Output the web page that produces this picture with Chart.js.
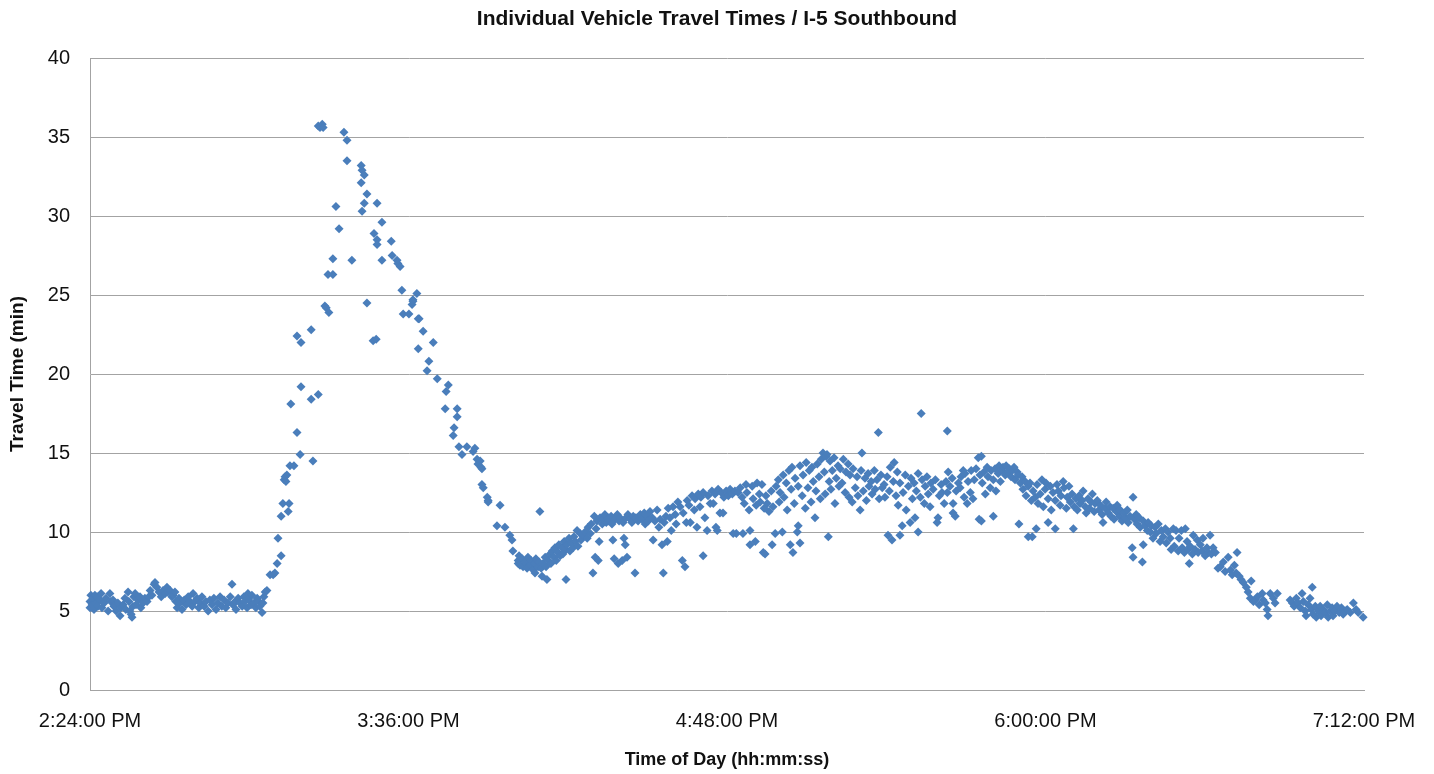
<!DOCTYPE html>
<html>
<head>
  <title>Individual Vehicle Travel Times / I-5 Southbound</title>
  <script src="https://cdn.jsdelivr.net/npm/chart.js"></script>
  <style>
    html, body { margin: 0; padding: 0; background: #fff; }
    #wrap { width: 1434px; height: 774px; position: relative; }
  </style>
</head>
<body>
<div id="wrap"><canvas id="chart"></canvas></div>
<script>
  // departure time in minutes after midnight, travel time in minutes

  // free flow before the incident, 2:24 - 3:04 PM
  const earlyStart = [
    864.0, 864.0, 864.2, 864.5, 864.7, 864.9, 865.1, 865.4, 865.6, 865.8,
    866.3, 866.5, 866.7, 867.2, 867.6, 868.1, 868.5, 868.7, 869.2, 869.4,
    869.9, 870.3, 870.8, 871.0, 871.5, 871.9, 872.1, 872.6, 872.8, 873.0,
    873.3, 873.5, 873.7, 873.9, 874.2, 874.4, 874.9, 875.3, 875.5, 876.0,
    876.4, 876.9, 877.3, 877.6, 878.0, 878.5, 878.7, 879.1, 879.6, 880.1,
    880.5, 881.0, 881.4, 881.6, 882.1, 882.5, 882.8, 883.2, 883.4, 883.7,
    884.1, 884.3, 884.8, 885.3, 885.7, 886.2, 886.6, 887.1, 887.3, 887.7,
    888.2, 888.6, 888.9, 889.3, 889.8, 890.2, 890.7, 891.1, 891.6, 892.0,
    892.5, 892.9, 893.4, 893.8, 894.3, 894.7, 895.2, 895.7, 896.1, 896.3,
    896.8, 897.0, 897.5, 897.9, 898.4, 898.8, 899.0, 899.5, 899.7, 899.9,
    900.4, 900.6, 901.1, 901.5, 901.8, 902.2, 902.4, 902.9, 903.1, 903.3,
    903.6, 904.0
  ];
  const earlyTravel = [
    5.6, 5.2, 6.0, 5.4, 5.8, 5.1, 6.0, 5.5, 5.9, 5.3,
    5.7, 6.1, 5.2, 5.5, 5.8, 5.0, 6.1, 5.6, 5.7, 5.3,
    5.0, 5.5, 4.7, 5.2, 5.4, 5.8, 5.1, 6.2, 5.6, 5.0,
    4.8, 4.6, 5.3, 5.9, 6.1, 5.4, 5.7, 5.9, 5.2, 5.5,
    5.8, 5.6, 5.9, 6.3, 6.0, 6.7, 6.8, 6.5, 6.2, 5.9,
    6.3, 6.1, 6.5, 6.2, 6.3, 5.9, 6.0, 6.2, 5.6, 5.2,
    5.8, 5.5, 5.1, 5.7, 5.4, 5.9, 5.6, 5.3, 6.1, 5.6,
    5.8, 5.2, 5.5, 5.9, 5.3, 5.6, 5.0, 5.7, 5.4, 5.8,
    5.1, 5.5, 5.9, 5.3, 5.7, 5.2, 5.5, 5.9, 6.7, 5.4,
    5.6, 5.1, 5.8, 5.5, 5.3, 5.9, 5.6, 5.2, 6.1, 5.7,
    5.4, 6.0, 5.5, 5.2, 5.8, 5.6, 5.3, 4.9, 5.5, 5.9,
    6.2, 6.3
  ];

  // congestion peak
  const peakStart = [
    904.7, 905.4, 905.8, 906.3, 906.5, 907.2, 907.2, 907.6, 907.9, 908.1,
    908.3, 908.5, 908.8, 909.0, 909.2, 909.4, 910.1, 910.8, 910.8, 911.5,
    911.7, 911.7, 914.0, 914.0, 914.4, 915.6, 915.6, 916.0, 916.5, 916.7,
    917.1, 917.4, 917.8, 918.0, 918.9, 918.9, 919.6, 920.3, 921.4, 922.1,
    922.1, 923.2, 925.3, 925.3, 925.5, 925.5, 926.0, 926.0, 926.6, 926.6,
    928.0, 928.2, 928.7, 928.9, 928.9, 928.9, 930.0, 930.0, 932.1, 932.3,
    933.4, 933.6, 934.1, 934.5, 934.8, 936.1, 936.8, 937.0, 937.0, 937.9,
    938.2, 938.4, 938.2, 939.3, 940.2, 940.6, 941.6, 942.5, 944.5, 945.0,
    944.3, 946.3, 946.1, 947.0, 947.0, 947.4, 948.1, 949.2, 950.6, 951.0,
    951.5, 951.7, 952.2, 952.4, 952.6, 952.6, 952.9, 953.8, 954.0, 954.0,
    956.7, 956.0, 957.8, 958.9, 959.4, 959.6, 961.0, 960.8, 965.7
  ];
  const peakTravel = [
    7.3, 7.3, 7.4, 8.0, 9.6, 8.5, 11.0, 11.8, 13.3, 13.5,
    13.2, 13.6, 11.3, 11.8, 14.2, 18.1, 14.2, 16.3, 22.4, 14.9,
    19.2, 22.0, 22.8, 18.4, 14.5, 18.7, 35.7, 35.6, 35.8, 35.6,
    24.3, 24.2, 26.3, 23.9, 26.3, 27.3, 30.6, 29.2, 35.3, 34.8,
    33.5, 27.2, 33.2, 32.1, 32.9, 30.3, 32.6, 30.8, 31.4, 24.5,
    22.1, 28.9, 22.2, 30.8, 28.5, 28.2, 29.6, 27.2, 28.4, 27.5,
    27.2, 27.0, 26.8, 25.3, 23.8, 23.8, 24.4, 24.6, 24.7, 25.1,
    23.5, 23.5, 21.6, 22.7, 20.2, 20.8, 22.0, 19.7, 18.9, 19.3,
    17.8, 16.6, 16.1, 17.8, 17.3, 15.4, 14.9, 15.4, 15.1, 15.3,
    14.6, 14.3, 14.5, 14.1, 14.0, 13.0, 12.8, 12.2, 12.0, 11.9,
    11.7, 10.4, 10.3, 9.8, 9.5, 8.8, 8.5, 8.0, 11.3
  ];

  // recovery dip and build-up, 4:00 - 4:51 PM
  const dipStart = [
    960.8, 961.2, 961.7, 961.9, 962.4, 962.8, 963.0, 963.5, 963.7, 964.2,
    964.4, 964.6, 964.8, 965.3, 965.5, 966.0, 966.2, 966.4, 966.9, 967.1,
    967.3, 967.6, 968.0, 968.2, 968.5, 968.9, 969.1, 969.4, 969.8, 970.0,
    970.3, 970.7, 970.9, 971.2, 971.6, 971.6, 971.8, 972.3, 972.5, 972.8,
    973.2, 973.4, 973.7, 974.1, 974.3, 974.8, 975.0, 975.5, 975.9, 976.4,
    976.6, 977.1, 977.3, 977.7, 978.0, 978.2, 978.4, 978.6, 978.9, 979.1,
    979.3, 979.8, 980.0, 980.4, 980.7, 981.1, 981.3, 981.8, 982.0, 982.2,
    982.5, 982.7, 983.2, 983.4, 983.6, 983.8, 984.3, 984.5, 984.7, 985.0,
    985.2, 985.4, 985.6, 986.1, 986.5, 986.8, 987.2, 987.4, 987.9, 988.4,
    988.8, 989.3, 989.5, 989.9, 990.2, 990.6, 991.1, 991.3, 991.7, 992.2,
    992.6, 992.9, 993.3, 993.6, 993.8, 994.2, 994.5, 994.7, 995.1, 995.4,
    995.8, 996.3, 996.5, 996.9, 997.4, 997.9, 998.1, 998.5, 998.8, 999.0,
    999.4, 999.7, 1000.1, 1000.6, 1000.8, 1001.2, 1001.5, 1001.9, 1002.1, 1002.6,
    1002.6, 1003.0, 1003.5, 1003.7, 1004.2, 1004.6, 1004.9, 1005.3, 1005.5, 1005.8,
    1006.0, 1006.4, 1006.7, 1007.1, 1007.3, 1007.8, 1008.3, 1008.7, 1009.2, 1009.4,
    1009.8, 1010.1, 1010.5, 1011.0
  ];
  const dipTravel = [
    8.2, 7.9, 8.3, 7.8, 8.1, 7.7, 8.4, 7.9, 8.2, 7.6,
    8.0, 7.4, 8.3, 7.8, 8.1, 7.7, 7.2, 8.0, 8.4, 7.8,
    7.0, 8.2, 8.6, 8.0, 8.8, 8.4, 9.0, 8.2, 8.7, 9.2,
    8.5, 9.0, 8.6, 9.4, 7.0, 8.9, 9.2, 9.6, 8.8, 9.3,
    9.0, 9.7, 9.4, 10.1, 9.1, 9.9, 9.5, 9.8, 10.0, 9.6,
    10.3, 9.9, 10.5, 7.4, 11.0, 8.4, 10.2, 10.7, 8.2, 9.4,
    10.9, 10.5, 10.8, 11.1, 10.6, 10.9, 10.7, 11.0, 10.5, 9.5,
    8.3, 10.8, 11.1, 8.0, 10.7, 10.9, 8.2, 10.6, 9.6, 9.2,
    10.9, 8.4, 11.1, 10.8, 10.6, 11.0, 7.4, 10.9, 10.7, 11.1,
    10.8, 11.2, 10.5, 11.0, 10.7, 11.3, 10.9, 9.5, 10.7, 11.4,
    10.3, 10.8, 9.2, 7.4, 10.6, 11.0, 9.4, 11.5, 10.9, 10.1,
    11.6, 11.1, 10.5, 11.9, 11.6, 8.2, 11.2, 7.8, 10.6, 12.0,
    11.7, 10.6, 12.3, 11.4, 12.1, 10.3, 12.4, 11.6, 12.2, 8.5,
    12.5, 10.9, 10.1, 12.3, 11.8, 12.6, 11.8, 12.4, 10.3, 10.1,
    12.7, 11.2, 12.5, 11.2, 12.2, 12.6, 12.3, 12.7, 12.4, 9.9,
    12.6, 9.9, 12.5, 12.8
  ];

  // evening plateau, 4:51 - 5:45 PM
  const plateauStart = [
    1011.4, 1011.6, 1011.9, 1012.3, 1012.5, 1013.0, 1013.2, 1013.2, 1013.7, 1013.9,
    1014.4, 1014.6, 1014.8, 1015.3, 1015.5, 1015.9, 1016.2, 1016.4, 1016.6, 1016.8,
    1017.1, 1017.5, 1018.0, 1018.2, 1018.4, 1018.9, 1019.1, 1019.6, 1019.8, 1020.0,
    1020.5, 1020.7, 1020.9, 1021.4, 1021.6, 1022.0, 1022.3, 1022.5, 1022.7, 1022.9,
    1023.2, 1023.4, 1023.9, 1024.1, 1024.1, 1024.5, 1024.5, 1025.0, 1025.2, 1025.7,
    1025.9, 1026.3, 1026.6, 1027.0, 1027.2, 1027.5, 1027.9, 1028.1, 1028.4, 1028.8,
    1029.1, 1029.3, 1029.7, 1030.0, 1030.2, 1030.4, 1030.6, 1030.9, 1031.1, 1031.3,
    1031.5, 1031.8, 1032.2, 1032.4, 1032.7, 1033.1, 1033.3, 1033.6, 1034.0, 1034.3,
    1034.7, 1034.9, 1035.4, 1035.6, 1035.8, 1036.3, 1036.5, 1037.0, 1037.4, 1037.6,
    1038.1, 1038.3, 1038.5, 1038.8, 1039.2, 1039.5, 1039.9, 1040.1, 1040.6, 1040.8,
    1041.3, 1041.5, 1041.9, 1042.2, 1042.4, 1042.8, 1043.1, 1043.5, 1043.7, 1044.2,
    1044.4, 1044.7, 1044.9, 1045.3, 1045.6, 1045.8, 1046.2, 1046.5, 1046.7, 1047.1,
    1047.1, 1047.6, 1047.8, 1048.3, 1048.5, 1049.0, 1049.4, 1049.6, 1049.9, 1050.3,
    1050.5, 1050.8, 1051.2, 1051.2, 1051.7, 1051.9, 1052.1, 1052.6, 1052.8, 1053.2,
    1053.5, 1053.9, 1054.1, 1054.6, 1055.1, 1055.5, 1055.7, 1056.0, 1056.4, 1056.6,
    1057.1, 1057.5, 1057.8, 1057.8, 1058.0, 1058.4, 1058.9, 1059.1, 1059.1, 1059.6,
    1059.8, 1060.3, 1060.7, 1060.9, 1061.4, 1061.6, 1061.8, 1062.3, 1062.5, 1063.0,
    1063.2, 1063.6, 1063.9, 1064.3, 1064.8, 1065.0, 1065.2
  ];
  const plateauTravel = [
    12.2, 9.9, 11.8, 13.0, 12.5, 11.4, 10.1, 9.2, 12.9, 12.1,
    9.4, 11.7, 13.1, 12.4, 11.9, 13.0, 8.7, 11.5, 8.6, 12.3,
    11.8, 11.3, 12.6, 9.2, 11.6, 9.9, 12.9, 13.3, 11.9, 12.5,
    10.0, 13.6, 12.2, 13.1, 11.4, 13.9, 9.2, 12.7, 14.1, 8.7,
    11.8, 13.4, 10.0, 10.4, 12.9, 9.3, 14.2, 12.3, 13.6, 11.5,
    14.4, 12.8, 13.9, 11.9, 14.1, 13.2, 10.9, 12.6, 14.3, 13.5,
    12.1, 14.6, 15.0, 13.8, 12.4, 14.8, 14.9, 9.7, 13.2, 14.5,
    12.7, 13.9, 14.7, 11.8, 13.4, 14.2, 12.9, 14.0, 13.1, 14.6,
    12.5, 13.8, 14.3, 12.2, 13.6, 11.9, 14.0, 12.8, 13.5, 12.3,
    11.4, 13.9, 15.0, 12.6, 13.4, 12.0, 13.7, 12.9, 13.2, 12.4,
    13.9, 12.7, 13.3, 16.3, 12.1, 13.6, 12.8, 13.0, 12.2, 13.5,
    9.8, 12.6, 14.1, 9.5, 13.2, 14.4, 12.3, 13.8, 11.7, 9.8,
    13.1, 10.4, 12.5, 13.6, 11.4, 12.9, 10.6, 13.4, 12.1, 13.1,
    10.9, 12.6, 10.0, 13.7, 12.2, 17.5, 13.3, 11.8, 12.9, 13.5,
    12.4, 11.6, 13.1, 12.7, 13.3, 10.6, 10.9, 12.3, 13.0, 12.5,
    11.8, 13.2, 16.4, 12.5, 13.8, 12.9, 13.4, 11.2, 11.8, 11.0,
    12.6, 13.1, 12.8, 13.5, 13.9, 12.2, 13.7, 11.8, 13.2, 12.5,
    13.9, 12.1, 13.3, 14.0, 14.7, 10.8, 13.6
  ];

  // slow decline, 5:45 - 6:39 PM
  const declineStart = [
    1065.5, 1065.5, 1065.7, 1066.1, 1066.4, 1066.8, 1067.0, 1067.5, 1067.7, 1068.2,
    1068.2, 1068.6, 1068.8, 1069.3, 1069.5, 1069.8, 1070.2, 1070.4, 1070.9, 1071.1,
    1071.6, 1071.8, 1072.2, 1072.5, 1072.9, 1073.1, 1073.6, 1073.8, 1074.0, 1074.3,
    1074.7, 1074.9, 1075.4, 1075.6, 1076.1, 1076.1, 1076.5, 1076.8, 1077.0, 1077.2,
    1077.7, 1077.9, 1078.1, 1078.3, 1078.8, 1079.2, 1079.5, 1079.9, 1080.1, 1080.6,
    1080.6, 1081.1, 1081.3, 1081.7, 1082.2, 1082.2, 1082.6, 1082.9, 1083.3, 1083.5,
    1084.0, 1084.2, 1084.7, 1084.9, 1085.3, 1085.6, 1086.0, 1086.3, 1086.5, 1086.9,
    1087.2, 1087.6, 1087.8, 1088.3, 1088.5, 1089.0, 1089.2, 1089.6, 1089.9, 1090.3,
    1090.6, 1091.0, 1091.2, 1091.7, 1092.1, 1092.4, 1092.8, 1093.0, 1093.5, 1093.7,
    1094.2, 1094.6, 1094.8, 1095.3, 1095.5, 1096.0, 1096.2, 1096.7, 1096.9, 1097.3,
    1097.8, 1098.0, 1098.5, 1098.7, 1099.1, 1099.6, 1099.8, 1099.8, 1100.1, 1100.5,
    1100.7, 1101.2, 1101.4, 1101.9, 1102.1, 1102.1, 1102.5, 1103.0, 1103.2, 1103.7,
    1103.9, 1104.3, 1104.8, 1105.0, 1105.5, 1105.9, 1106.2, 1106.6, 1107.1, 1107.3,
    1107.7, 1108.2, 1108.4, 1108.9, 1109.1, 1109.5, 1110.0, 1110.2, 1110.7, 1110.9,
    1111.4, 1111.6, 1112.0, 1112.3, 1112.5, 1112.7, 1113.2, 1113.4, 1113.8, 1114.3,
    1114.5, 1115.0, 1115.4, 1115.6, 1116.1, 1116.5, 1116.8, 1117.2, 1117.5, 1117.9,
    1118.4, 1119.0
  ];
  const declineTravel = [
    14.8, 10.7, 13.1, 13.8, 12.4, 14.1, 13.5, 12.8, 13.9, 11.0,
    13.3, 14.0, 12.6, 13.7, 14.2, 13.2, 13.9, 14.1, 13.6, 14.2,
    13.8, 14.0, 13.5, 13.9, 14.1, 13.3, 13.8, 13.6, 10.5, 13.1,
    13.5, 12.7, 13.2, 12.3, 9.7, 12.9, 13.1, 12.0, 9.7, 12.6,
    12.2, 10.2, 13.0, 11.8, 12.4, 13.3, 11.6, 12.7, 13.1, 10.6,
    12.1, 12.9, 11.4, 12.5, 10.2, 12.0, 13.0, 12.6, 11.7, 12.3,
    13.2, 12.8, 11.5, 12.2, 12.9, 11.9, 12.4, 10.2, 11.6, 12.1,
    11.4, 12.3, 11.8, 12.0, 12.6, 11.6, 11.2, 12.1, 11.5, 11.9,
    12.4, 11.3, 11.8, 12.0, 11.4, 11.7, 11.1, 10.6, 11.5, 11.9,
    11.2, 11.6, 11.0, 11.5, 10.8, 11.3, 11.7, 11.0, 11.4, 10.7,
    11.2, 10.9, 11.4, 10.6, 11.0, 9.0, 8.4, 12.2, 10.8, 11.1,
    10.5, 10.9, 10.3, 8.1, 9.2, 10.7, 10.4, 10.1, 10.6, 10.0,
    10.4, 9.6, 10.3, 9.9, 10.5, 9.4, 10.1, 9.7, 10.2, 9.3,
    10.0, 9.6, 8.9, 10.2, 9.1, 10.1, 8.8, 9.6, 10.1, 9.0,
    8.7, 10.2, 9.4, 8.9, 8.0, 9.1, 8.6, 9.8, 8.9, 9.5,
    8.7, 9.2, 8.8, 9.6, 8.5, 9.0, 8.7, 9.8, 8.6, 9.0,
    8.7, 7.7
  ];

  // back to free flow, 6:39 - 7:12 PM
  const lateStart = [
    1119.5, 1120.2, 1120.6, 1121.3, 1121.8, 1122.2, 1122.7, 1123.1, 1123.3, 1123.8,
    1124.2, 1124.7, 1125.4, 1125.8, 1126.3, 1126.5, 1127.0, 1127.4, 1127.9, 1128.3,
    1129.0, 1129.2, 1129.7, 1130.1, 1130.3, 1130.8, 1131.5, 1131.9, 1132.4, 1135.3,
    1135.8, 1136.2, 1136.7, 1137.1, 1137.6, 1138.0, 1138.3, 1138.7, 1138.9, 1139.4,
    1139.8, 1140.1, 1140.3, 1140.5, 1141.0, 1141.2, 1141.7, 1142.1, 1142.3, 1142.8,
    1143.2, 1143.7, 1143.9, 1144.4, 1144.8, 1145.0, 1145.5, 1145.9, 1146.4, 1146.9,
    1147.3, 1147.8, 1148.2, 1148.9, 1149.6, 1150.2, 1150.7, 1151.8
  ];
  const lateTravel = [
    7.8, 8.1, 7.5, 8.4, 7.6, 7.3, 7.9, 7.4, 8.7, 7.2,
    7.0, 6.8, 6.5, 6.2, 5.8, 6.9, 5.6, 5.7, 5.9, 5.4,
    6.1, 5.7, 5.5, 5.1, 4.7, 6.1, 5.8, 5.5, 6.1, 5.7,
    5.5, 5.3, 5.8, 5.5, 5.2, 6.1, 5.6, 5.0, 4.7, 5.4,
    5.8, 5.1, 6.5, 4.8, 5.3, 4.6, 5.0, 5.3, 4.7, 5.1,
    4.9, 5.4, 4.6, 5.0, 5.2, 4.7, 5.0, 5.3, 4.9, 5.2,
    4.8, 5.0, 5.1, 4.9, 5.5, 5.1, 4.9, 4.6
  ];

  const timeTicks = [864, 936, 1008, 1080, 1152];   // 2:24 PM ... 7:12 PM
  const travelTicks = [0, 5, 10, 15, 20, 25, 30, 35, 40];

  function toPoints(starts, travels) {
    return starts.map((t, i) => ({ x: t, y: travels[i] }));
  }

  const points = [].concat(
    toPoints(earlyStart, earlyTravel),
    toPoints(peakStart, peakTravel),
    toPoints(dipStart, dipTravel),
    toPoints(plateauStart, plateauTravel),
    toPoints(declineStart, declineTravel),
    toPoints(lateStart, lateTravel)
  );

  function clockLabel(min) {
    let h = Math.floor(min / 60);
    const m = Math.round(min - h * 60);
    const suffix = h >= 12 ? 'PM' : 'AM';
    if (h > 12) h -= 12;
    return h + ':' + String(m).padStart(2, '0') + ':00 ' + suffix;
  }

  const fontFamily = '"Liberation Sans", Arial, sans-serif';
  const textColor = '#111';
  const lineColor = '#a3a3a3';

  new Chart(document.getElementById('chart'), {
    type: 'scatter',
    data: {
      datasets: [{
        data: points,
        pointStyle: 'rectRot',
        pointRadius: 4.5,
        pointBackgroundColor: '#4a7ebb',
        pointBorderWidth: 0,
        clip: false
      }]
    },
    options: {
      responsive: true,
      maintainAspectRatio: false,
      animation: false,
      layout: { padding: 0 },
      plugins: {
        legend: { display: false },
        tooltip: { enabled: false },
        title: {
          display: true,
          text: 'Individual Vehicle Travel Times / I-5 Southbound',
          color: textColor,
          font: { family: fontFamily, size: 21, weight: 'bold' },
          padding: { top: 7, bottom: 25.8 }
        }
      },
      scales: {
        x: {
          type: 'linear',
          min: 864,
          max: 1152,
          afterBuildTicks: axis => { axis.ticks = timeTicks.map(v => ({ value: v })); },
          afterFit: s => { s.height = 84; s.paddingRight = 70; },
          ticks: {
            callback: v => clockLabel(v),
            color: textColor,
            font: { family: fontFamily, size: 20 },
            padding: 19,
            maxRotation: 0,
            autoSkip: false
          },
          grid: { display: false, drawTicks: false },
          border: { display: true, color: lineColor, width: 1 },
          title: {
            display: true,
            text: 'Time of Day (hh:mm:ss)',
            color: textColor,
            font: { family: fontFamily, size: 18, weight: 'bold' },
            padding: { top: 0, bottom: 3 }
          }
        },
        y: {
          min: 0,
          max: 40,
          afterBuildTicks: axis => { axis.ticks = travelTicks.map(v => ({ value: v })); },
          afterFit: s => { s.width = 90; },
          ticks: {
            color: textColor,
            font: { family: fontFamily, size: 20 },
            padding: 20
          },
          grid: { color: lineColor, lineWidth: 1, drawTicks: false },
          border: { display: true, color: lineColor, width: 1 },
          title: {
            display: true,
            text: 'Travel Time (min)',
            color: textColor,
            font: { family: fontFamily, size: 19, weight: 'bold' },
            padding: { top: 6.6, bottom: 0 }
          }
        }
      }
    }
  });
</script>
</body>
</html>
